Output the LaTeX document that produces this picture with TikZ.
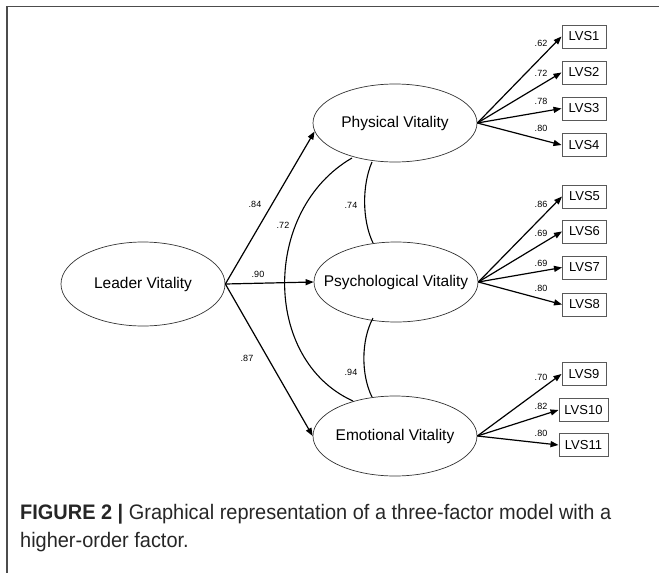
\documentclass[tikz,border=0pt]{standalone}
\usepackage{fontspec}
\setmainfont{Liberation Sans}
\newfontfamily\capfont[FakeStretch=0.95]{Liberation Sans}
\usetikzlibrary{arrows.meta,shapes.geometric}
\begin{document}
\begin{tikzpicture}[x=1pt,y=-1pt,
  latent/.style={ellipse,draw=black!80,line width=0.7pt,minimum width=164pt,minimum height=80pt,inner xsep=-30pt,inner ysep=-5pt,font=\fontsize{15.5}{18}\selectfont},
  obs/.style={draw=black!65,line width=1pt,minimum width=44pt,minimum height=23pt,inner sep=0pt,font=\fontsize{13}{15}\selectfont},
  path/.style={line width=1.2pt,-{Triangle[length=8pt,width=6pt]}},
  cov/.style={line width=1.1pt},
  lbl/.style={font=\fontsize{9}{10}\selectfont,inner sep=0pt}
]
\useasboundingbox (0,0) rectangle (659,573);
\draw[black!70,line width=1.3pt] (659,6.5) -- (7,6.5) -- (7,573);

\node[latent,minimum height=84pt] (LV) at (143,284) {Leader Vitality};
\node[latent,minimum height=78pt] (PV) at (395,123) {Physical Vitality};
\node[latent] (PsV) at (396,282) {Psychological Vitality};
\node[latent] (EV) at (395,436) {Emotional Vitality};

\draw[path] (LV.east) -- (PV.186);
\draw[path] (LV.east) -- (PsV.west);
\draw[path] (LV.east) -- (EV.west);
\node[lbl] (l84) at (255,204) {.84};
\node[lbl] (l90) at (258,274) {.90};
\node[lbl] (l87) at (247,358) {.87};

\coordinate (c1a) at (352,158);
\coordinate (c1b) at (353,401);
\draw[cov] (c1a) .. controls (262,210) and (262,360) .. (c1b);
\coordinate (c2a) at (372,162);
\coordinate (c2b) at (373,243);
\draw[cov] (c2a) .. controls (362,185) and (362,220) .. (c2b);
\coordinate (c3a) at (373,318);
\coordinate (c3b) at (372,397);
\draw[cov] (c3a) .. controls (361,340) and (361,375) .. (c3b);
\node[lbl] (l72) at (283,225) {.72};
\node[lbl] (l74) at (351,205) {.74};
\node[lbl] (l94) at (351,372) {.94};

\node[obs] (v1) at (584,36.5) {LVS1};
\node[obs] (v2) at (584,72.5) {LVS2};
\node[obs] (v3) at (584,108.5) {LVS3};
\node[obs] (v4) at (584,145) {LVS4};
\node[obs] (v5) at (584.5,196.5) {LVS5};
\node[obs] (v6) at (584.5,231.5) {LVS6};
\node[obs] (v7) at (584.5,267.5) {LVS7};
\node[obs] (v8) at (584.5,304.5) {LVS8};
\node[obs] (v9) at (584,374) {LVS9};
\node[obs,minimum width=49pt] (v10) at (583.5,410) {LVS10};
\node[obs,minimum width=49pt] (v11) at (583.5,445) {LVS11};

\foreach \v in {v1,v2,v3,v4} \draw[path] (PV.east) -- (\v.west);
\foreach \v in {v5,v6,v7,v8} \draw[path] (PsV.east) -- (\v.west);
\foreach \v in {v9,v10,v11} \draw[path] (EV.east) -- (\v.west);

\node[lbl] (a1) at (541,43) {.62};
\node[lbl] (a2) at (541,73) {.72};
\node[lbl] (a3) at (541,101) {.78};
\node[lbl] (a4) at (541,128) {.80};
\node[lbl] (a5) at (541,204) {.86};
\node[lbl] (a6) at (541,233) {.69};
\node[lbl] (a7) at (541,263) {.69};
\node[lbl] (a8) at (541,288) {.80};
\node[lbl] (a9) at (541,377) {.70};
\node[lbl] (a10) at (541,406) {.82};
\node[lbl] (a11) at (541,433) {.80};

\node[anchor=base west,inner sep=0pt,font=\capfont\fontsize{21}{28}\selectfont,text=black!85] (cap1) at (20,519)
  {\textbf{FIGURE 2 |} Graphical representation of a three-factor model with a};
\node[anchor=base west,inner sep=0pt,font=\capfont\fontsize{21}{28}\selectfont,text=black!85] (cap2) at (20,547)
  {higher-order factor.};
\end{tikzpicture}
\end{document}
